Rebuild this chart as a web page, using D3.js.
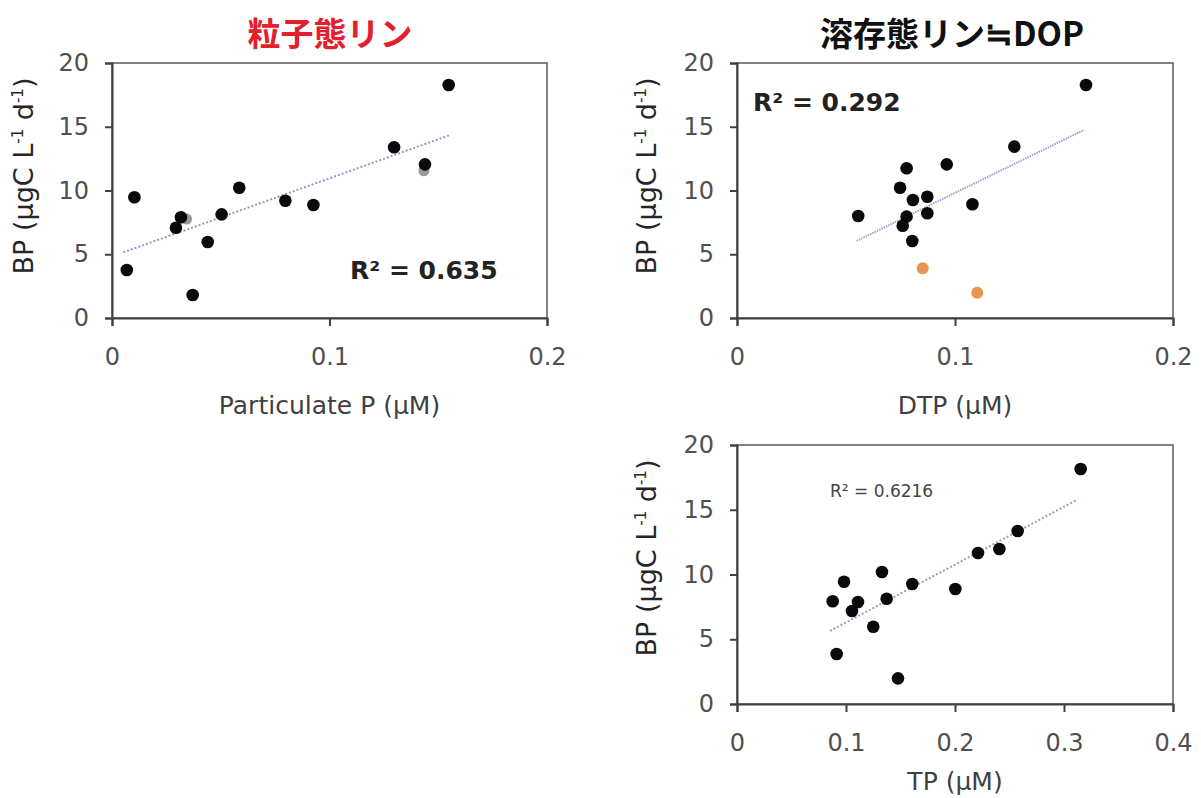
<!DOCTYPE html>
<html>
<head>
<meta charset="utf-8">
<script src="https://cdn.jsdelivr.net/npm/d3@7"></script>
<style>
  body { margin: 0; background: #fff; }
  svg text { font-family: "DejaVu Sans", Verdana, sans-serif; }
</style>
</head>
<body>
<div id="canvas"></div>
<script>
// Data
// 粒子態リン (Particulate P)
var ppX = [0.0068, 0.0103, 0.0294, 0.0317, 0.0371, 0.0440, 0.0504, 0.0585, 0.0797, 0.0926, 0.1297, 0.1439, 0.1548];
var ppY = [3.76, 9.47, 7.08, 7.90, 1.80, 5.96, 8.13, 10.22, 9.20, 8.86, 13.39, 12.05, 18.27];
var ppHiddenX = [0.0343, 0.1434];   // grey dots behind
var ppHiddenY = [7.76, 11.55];
var ppTrend = [0.0052, 0.1554];     // x range of trend line
var ppSlope = 61.25, ppIntercept = 4.83;

// 溶存態リン≒DOP (DTP)
var dtpX = [0.0556, 0.0748, 0.0778, 0.0807, 0.0873, 0.0962, 0.0778, 0.0760, 0.0873, 0.0804, 0.1080, 0.1272, 0.1601];
var dtpY = [8.00, 10.22, 11.74, 9.25, 9.51, 12.05, 7.95, 7.24, 8.21, 6.04, 8.92, 13.44, 18.27];
var dtpOutX = [0.0852, 0.1102];     // orange dots
var dtpOutY = [3.90, 1.98];
var dtpTrend = [0.0549, 0.1592];
var dtpSlope = 83.5, dtpIntercept = 1.46;

// TP
var tpX = [0.0878, 0.0914, 0.0982, 0.1055, 0.1110, 0.1250, 0.1330, 0.1373, 0.1477, 0.1608, 0.2003, 0.2211, 0.2407, 0.2575, 0.3153];
var tpY = [7.93, 3.86, 9.44, 7.18, 7.88, 5.97, 10.19, 8.13, 1.98, 9.27, 8.88, 11.66, 11.97, 13.36, 18.15];
var tpTrend = [0.0853, 0.3117];
var tpSlope = 44.66, tpIntercept = 1.83;

// Tick labels
var yTicks = [0, 5, 10, 15, 20];
var yTickLabels = ["0", "5", "10", "15", "20"];
var x2Ticks = [0, 0.1, 0.2];
var x2TickLabels = ["0", "0.1", "0.2"];
var x4Ticks = [0, 0.1, 0.2, 0.3, 0.4];
var x4TickLabels = ["0", "0.1", "0.2", "0.3", "0.4"];

var width = 1201;
var height = 798;

var svg = d3.select("div#canvas").append("svg")
    .attr("width", width)
    .attr("height", height);

function panel(o) {
    var x = d3.scaleLinear().domain([0, o.xMax]).range([o.left, o.right]);
    var y = d3.scaleLinear().domain([0, 20]).range([o.bottom, o.top]);
    var g = svg.append("g");

    // box
    g.append("rect")
        .attr("x", o.left).attr("y", o.top)
        .attr("width", o.right - o.left).attr("height", o.bottom - o.top)
        .attr("fill", "none").attr("stroke", "#595959").attr("stroke-width", 1.5);

    // axes
    var ya = g.append("g")
        .attr("transform", "translate(" + o.left + ",0)")
        .call(d3.axisLeft(y).tickValues(yTicks)
            .tickFormat(function(d, i){ return yTickLabels[i]; })
            .tickSizeOuter(0).tickSize(7).tickPadding(16));
    var xa = g.append("g")
        .attr("transform", "translate(0," + o.bottom + ")")
        .call(d3.axisBottom(x).tickValues(o.ticks)
            .tickFormat(function(d, i){ return o.tickLabels[i]; })
            .tickSizeOuter(0).tickSize(8).tickPadding(o.xPad));
    [ya, xa].forEach(function(a){
        a.select(".domain").attr("stroke", "#404040").attr("stroke-width", 2);
        a.selectAll(".tick line").attr("stroke", "#404040").attr("stroke-width", 2);
        a.selectAll(".tick text")
            .attr("fill", "#505050")
            .style("font-size", "24px")
            .style("font-family", "'DejaVu Sans', Verdana, sans-serif");
    });

    // trend line
    g.append("line")
        .attr("x1", x(o.trend[0])).attr("y1", y(o.slope * o.trend[0] + o.intercept))
        .attr("x2", x(o.trend[1])).attr("y2", y(o.slope * o.trend[1] + o.intercept))
        .attr("stroke", o.trendColor)
        .attr("stroke-width", 2)
        .attr("stroke-dasharray", o.dash);

    // extra dots (drawn behind)
    if (o.extraX) {
        g.selectAll("circle.extra")
            .data(d3.zip(o.extraX, o.extraY))
            .enter().append("circle")
            .attr("class", "extra")
            .attr("cx", function(d){ return x(d[0]); })
            .attr("cy", function(d){ return y(d[1]); })
            .attr("r", o.extraR)
            .attr("fill", o.extraColor);
    }

    g.selectAll("circle.pt")
        .data(d3.zip(o.xs, o.ys))
        .enter().append("circle")
        .attr("class", "pt")
        .attr("cx", function(d){ return x(d[0]); })
        .attr("cy", function(d){ return y(d[1]); })
        .attr("r", 6.3)
        .attr("fill", "#0a0a0a");

    // y label
    var yl = g.append("text")
        .attr("transform", "translate(" + o.yLabelX + "," + o.yLabelY + ")rotate(-90)")
        .attr("text-anchor", "middle")
        .attr("fill", "#262626")
        .style("font-size", "27px");
    yl.append("tspan").text("BP (μgC L");
    yl.append("tspan").attr("dy", -10).style("font-size", "15px").text("-1");
    yl.append("tspan").attr("dy", 10).text(" d");
    yl.append("tspan").attr("dy", -10).style("font-size", "15px").text("-1");
    yl.append("tspan").attr("dy", 10).text(")");

    // x label
    g.append("text")
        .attr("x", (o.left + o.right) / 2)
        .attr("y", o.xLabelY)
        .attr("text-anchor", "middle")
        .attr("fill", "#404040")
        .style("font-size", "25px")
        .text(o.xLabel);

    // R2
    g.append("text")
        .attr("x", o.r2x).attr("y", o.r2y)
        .attr("fill", o.r2Color)
        .style("font-size", o.r2Size)
        .style("font-weight", o.r2Weight)
        .text(o.r2);
}

panel({left: 112, right: 547, top: 63, bottom: 318, xMax: 0.2,
    ticks: x2Ticks, tickLabels: x2TickLabels, xPad: 22,
    xs: ppX, ys: ppY, extraX: ppHiddenX, extraY: ppHiddenY, extraR: 5.5, extraColor: "#9a9a9a",
    trend: ppTrend, slope: ppSlope, intercept: ppIntercept, trendColor: "#8e9ec4", dash: "2,2",
    yLabelX: 33, yLabelY: 176, xLabel: "Particulate P (μM)", xLabelY: 414,
    r2: "R² = 0.635", r2x: 350, r2y: 279, r2Size: "25px", r2Weight: "bold", r2Color: "#222"});

panel({left: 737, right: 1173, top: 63, bottom: 318, xMax: 0.2,
    ticks: x2Ticks, tickLabels: x2TickLabels, xPad: 22,
    xs: dtpX, ys: dtpY, extraX: dtpOutX, extraY: dtpOutY, extraR: 6, extraColor: "#e8954f",
    trend: dtpTrend, slope: dtpSlope, intercept: dtpIntercept, trendColor: "#9aa3c6", dash: "1.5,1",
    yLabelX: 656, yLabelY: 176, xLabel: "DTP (μM)", xLabelY: 414,
    r2: "R² = 0.292", r2x: 753, r2y: 111, r2Size: "25px", r2Weight: "bold", r2Color: "#222"});

panel({left: 737, right: 1173, top: 445, bottom: 704, xMax: 0.4,
    ticks: x4Ticks, tickLabels: x4TickLabels, xPad: 22,
    xs: tpX, ys: tpY,
    trend: tpTrend, slope: tpSlope, intercept: tpIntercept, trendColor: "#8e9ec4", dash: "2,2",
    yLabelX: 656, yLabelY: 558, xLabel: "TP (μM)", xLabelY: 790,
    r2: "R² = 0.6216", r2x: 830, r2y: 497, r2Size: "17px", r2Weight: "normal", r2Color: "#444"});

// titles
svg.append("text")
    .attr("x", 330).attr("y", 46)
    .attr("text-anchor", "middle")
    .attr("fill", "#e3202b")
    .style("font-family", "'Noto Sans CJK JP', sans-serif")
    .style("font-weight", "bold")
    .style("font-size", "33px")
    .text("粒子態リン");

svg.append("text")
    .attr("x", 952).attr("y", 46)
    .attr("text-anchor", "middle")
    .attr("fill", "#111")
    .style("font-family", "'Noto Sans CJK JP', sans-serif")
    .style("font-weight", "bold")
    .style("font-size", "33px")
    .text("溶存態リン≒DOP");
</script>
</body>
</html>
